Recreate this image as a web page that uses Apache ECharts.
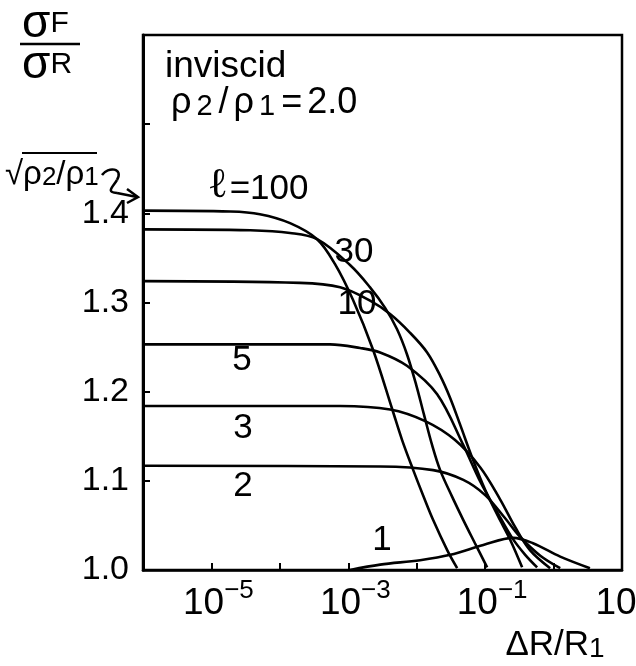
<!DOCTYPE html>
<html><head><meta charset="utf-8">
<script src="https://cdn.jsdelivr.net/npm/echarts/dist/echarts.min.js"></script>
<style>html,body{margin:0;padding:0;background:#fff}#c{width:636px;height:666px}</style>
</head><body><div id="c"></div>
<script>
// ---- data (x = ΔR/R1, y = σF/σR) ----
const labelledDecades = [-5, -3, -1, 1];
const yTickValues = [1.0, 1.1, 1.2, 1.3, 1.4];
const curveNames = ['ℓ=100', '30', '10', '5', '3', '2', '1'];

const l100 = [[1e-6,1.403],[1.9e-5,1.402],[5.1e-5,1.399],[1.41e-4,1.389],[3.5e-4,1.371],[6.4e-4,1.343],[1.17e-3,1.303],[2.3e-3,1.247],[4.4e-3,1.180],[6.1e-3,1.146],[8.9e-3,1.112],[1.25e-2,1.083],[1.74e-2,1.056],[2.8e-2,1.022],[3.9e-2,1.002]];
const l30  = [[1e-6,1.382],[3.7e-5,1.381],[1.41e-4,1.378],[3.5e-4,1.371],[1.06e-3,1.342],[2.08e-3,1.317],[3.45e-3,1.294],[5.16e-3,1.270],[7.2e-3,1.242],[9.8e-3,1.208],[1.28e-2,1.174],[1.68e-2,1.140],[2.2e-2,1.112],[3.3e-2,1.082],[4.8e-2,1.056],[7.1e-2,1.030],[0.107,1.003]];
const l10  = [[1e-6,1.324],[1.97e-4,1.322],[7.6e-4,1.317],[2.08e-3,1.302],[4.08e-3,1.287],[8.0e-3,1.266],[1.42e-2,1.244],[2.2e-2,1.218],[3.08e-2,1.193],[4.31e-2,1.163],[6.46e-2,1.126],[0.100,1.090],[0.155,1.060],[0.232,1.034],[0.347,1.003]];
const l5   = [[1e-6,1.253],[5.4e-4,1.253],[1.49e-3,1.249],[2.92e-3,1.244],[7.2e-3,1.229],[1.99e-2,1.197],[4.8e-2,1.140],[8.5e-2,1.099],[0.150,1.065],[0.248,1.036],[0.385,1.017],[0.575,1.003]];
const l3   = [[1e-6,1.184],[7.6e-4,1.184],[4.08e-3,1.180],[1.33e-2,1.167],[3.6e-2,1.146],[8.5e-2,1.115],[0.166,1.079],[0.275,1.048],[0.455,1.022],[0.89,1.002]];
const l2   = [[1e-6,1.117],[2.92e-3,1.116],[1.74e-2,1.112],[4.8e-2,1.101],[0.100,1.084],[0.196,1.058],[0.325,1.037],[0.64,1.016],[1.25,1.002]];
const l1   = [[1.06e-3,1.000],[2.92e-3,1.006],[1.12e-2,1.011],[3.1e-2,1.017],[9.4e-2,1.028],[0.257,1.036],[0.50,1.030],[1.25,1.015],[3.4,1.002]];

const curves = [l100, l30, l10, l5, l3, l2, l1];

const FONT = 'Liberation Sans';
const chart = echarts.init(document.getElementById('c'));

const series = curves.map((d, i) => ({
  type: 'line', name: curveNames[i], data: d, showSymbol: false, smooth: 0.35,
  lineStyle: {color: '#000', width: 2.6}, silent: true, animation: false
}));

function txt(text, x, y, size, align, rich) {
  return {type: 'text', z: 100, style: {text: text, x: x, y: y, fill: '#000',
    font: size + 'px "' + FONT + '"', align: align || 'center', verticalAlign: 'middle', rich: rich}};
}
const subRich = {
  n: {fontSize: 35, fontFamily: FONT, fill: '#000', verticalAlign: 'bottom', lineHeight: 38},
  s: {fontSize: 28, fontFamily: FONT, fill: '#000', verticalAlign: 'bottom', lineHeight: 34},
  l: {fontSize: 42, fontFamily: 'DejaVu Serif', fill: '#000', verticalAlign: 'bottom', lineHeight: 42, padding: [0, 2, 0, 0]}
};
const wideRich = {
  n: {fontSize: 36, fontFamily: FONT, fill: '#000', verticalAlign: 'bottom', lineHeight: 38, padding: [0, 5, 0, 0]},
  s: {fontSize: 29, fontFamily: FONT, fill: '#000', verticalAlign: 'bottom', lineHeight: 34, padding: [0, 6, 0, 0]}
};
const arrowStyle = {stroke: '#000', fill: null, lineWidth: 2.5};

chart.setOption({
  animation: false,
  backgroundColor: '#fff',
  grid: {left: 143, right: 14, top: 35, bottom: 96, show: true, borderColor: '#000', borderWidth: 2.5,
    containLabel: false, outerBoundsMode: 'none'},
  xAxis: {
    type: 'log', logBase: 10, min: 1e-6, max: 10, interval: 1,
    axisLine: {lineStyle: {color: '#000', width: 2.5}},
    axisTick: {inside: true, length: 7, lineStyle: {color: '#000', width: 2}},
    minorTick: {show: false}, splitLine: {show: false},
    axisLabel: {
      margin: 8, color: '#000', showMinLabel: true, showMaxLabel: true, hideOverlap: false,
      formatter: function (v) {
        const e = Math.round(Math.log10(v));
        if (labelledDecades.indexOf(e) < 0) return '';
        if (e === 1) return '{b|10}{q| }';
        return '{p| }{b|10}{s|\u2212' + (-e) + '}';
      },
      rich: {
        p: {width: 14, fontSize: 10},
        q: {width: 12, fontSize: 10},
        b: {fontSize: 37, fontFamily: FONT, color: '#000', lineHeight: 44, verticalAlign: 'bottom'},
        s: {fontSize: 26, fontFamily: FONT, color: '#000', lineHeight: 44, verticalAlign: 'top'}
      }
    }
  },
  yAxis: {
    type: 'value', min: 1.0, max: 1.6, interval: 0.1,
    axisLine: {show: true, lineStyle: {color: '#000', width: 3}},
    axisTick: {inside: true, length: 7, lineStyle: {color: '#000', width: 2}},
    splitLine: {show: false},
    axisLabel: {
      margin: 14, color: '#000', fontSize: 34, fontFamily: FONT,
      formatter: function (v) {
        const r = Math.round(v * 10) / 10;
        return yTickValues.indexOf(r) >= 0 ? r.toFixed(1) : '';
      }
    }
  },
  series: series,
  graphic: [
    txt('{a|σ}{b|F}', 22, 24, 36, 'left', {a: {fontSize: 46, fontFamily: FONT}, b: {fontSize: 30, fontFamily: FONT}}),
    {type: 'line', shape: {x1: 20, y1: 44, x2: 80, y2: 44}, style: {stroke: '#000', lineWidth: 2.5}},
    txt('{a|σ}{b|R}', 22, 65, 36, 'left', {a: {fontSize: 46, fontFamily: FONT}, b: {fontSize: 30, fontFamily: FONT}}),
    txt('inviscid', 165, 67, 37, 'left'),
    txt('{n|ρ}{s|2}{n|/}{n|ρ}{s|1}{n|=}{n|2.0}', 171, 102, 36, 'left', wideRich),
    txt('{n|√ρ}{s|2}{n|/ρ}{s|1}', 5, 173, 32, 'left', {
      n: {fontSize: 33, fontFamily: FONT, fill: '#000', verticalAlign: 'bottom', lineHeight: 36},
      s: {fontSize: 26, fontFamily: FONT, fill: '#000', verticalAlign: 'bottom', lineHeight: 32}}),
    {type: 'line', shape: {x1: 22, y1: 153, x2: 97, y2: 153}, style: {stroke: '#000', lineWidth: 2}},
    {type: 'bezierCurve', shape: {x1: 102, y1: 175, cpx1: 108, cpy1: 166, cpx2: 124, cpy2: 168, x2: 117, y2: 180}, style: arrowStyle},
    {type: 'bezierCurve', shape: {x1: 117, y1: 180, cpx1: 112, cpy1: 188, cpx2: 106, cpy2: 192, x2: 117, y2: 193}, style: arrowStyle},
    {type: 'line', shape: {x1: 117, y1: 193, x2: 137, y2: 197}, style: arrowStyle},
    {type: 'polyline', shape: {points: [[127,189],[138,197],[127,203]]}, style: arrowStyle},
    txt('{l|ℓ}{n|=100}', 258, 186, 35, 'center', subRich),
    txt(curveNames[1], 354, 252, 35, 'center'),
    txt(curveNames[2], 357, 304, 35, 'center'),
    txt(curveNames[3], 242, 360, 35, 'center'),
    txt(curveNames[4], 243, 428, 35, 'center'),
    txt(curveNames[5], 243, 486, 35, 'center'),
    txt(curveNames[6], 382, 540, 35, 'center'),
    txt('{n|ΔR/R}{s|1}', 555, 644, 35, 'center', subRich)
  ]
});
</script></body></html>
